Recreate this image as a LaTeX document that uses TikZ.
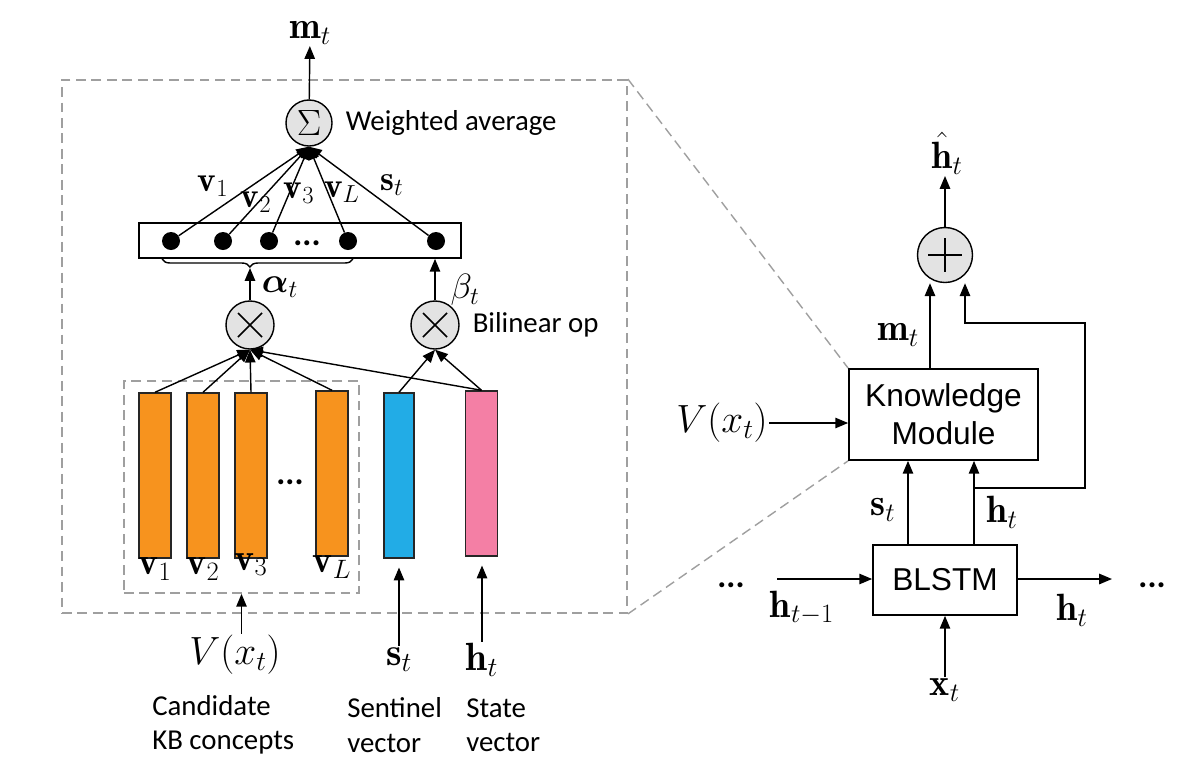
\RequirePackage{fix-cm}
\documentclass[tikz,border=0pt]{standalone}
\usepackage{amsmath}
\usepackage{fontspec}
\newfontfamily\calib{Carlito}
\newfontfamily\arial{Liberation Sans}
\usepackage{tikz}
\usetikzlibrary{positioning,arrows.meta,decorations.pathreplacing}
\definecolor{vorange}{HTML}{F7931E}
\definecolor{vblue}{HTML}{22ACE6}
\definecolor{vpink}{HTML}{F47FA5}
\newcommand\lsz{\fontsize{25}{29}\selectfont}
\newcommand\msz{\fontsize{27}{31}\selectfont}
\newcommand\bsz{\fontsize{28}{32}\selectfont}
\tikzset{
    arr/.style={-{Triangle[length=0.32cm,width=0.26cm]}, line width=1pt},
    opnode/.style={circle, draw, fill=gray!22, inner sep=0pt, line width=1pt},
    timesop/.style={opnode, minimum size=1.2cm,
      path picture={\draw[line width=1.1pt]
        ([shift={(-0.3cm,-0.3cm)}]path picture bounding box.center) -- ([shift={(0.3cm,0.3cm)}]path picture bounding box.center)
        ([shift={(-0.3cm,0.3cm)}]path picture bounding box.center) -- ([shift={(0.3cm,-0.3cm)}]path picture bounding box.center);}},
    plusop/.style={opnode, minimum size=1.375cm,
      path picture={\draw[line width=1.2pt]
        ([xshift=-0.42cm]path picture bounding box.center) -- ([xshift=0.42cm]path picture bounding box.center)
        ([yshift=-0.42cm]path picture bounding box.center) -- ([yshift=0.42cm]path picture bounding box.center);}},
    vecbar/.style={rectangle, draw=black!85, line width=1pt, minimum width=0.8cm, minimum height=4.125cm, inner sep=0pt},
    kdot/.style={circle, fill=black, minimum size=0.45cm, inner sep=0pt},
    modbox/.style={rectangle, draw, line width=1.2pt, inner sep=0pt, align=center, font=\arial\fontsize{22.5}{27}\selectfont},
    dbox/.style={rectangle, draw=gray!75, dash pattern=on 7pt off 4pt, line width=1.2pt},
    zoomline/.style={draw=gray!75, dash pattern=on 7pt off 4pt, line width=1pt},
    lab/.style={inner sep=1pt, font=\msz},
    txt/.style={inner sep=0pt, align=left, font=\calib\fontsize{20.5}{24.5}\selectfont},
    dotstxt/.style={inner sep=0pt, font=\calib\bfseries\fontsize{24}{28}\selectfont},
}
\begin{document}
\begin{tikzpicture}[x=0.025cm, y=-0.025cm]
\useasboundingbox (0,0) rectangle (1197,770);
% knowledge module, expanded
\node[dbox, minimum width=14.125cm, minimum height=13.325cm] (zoom) at (344.5,346.5) {};
\node[opnode, minimum size=1.15cm, font=\fontsize{26}{30}\selectfont] (sig) at (309,123) {$\Sigma$};
\node[txt, right=0.32cm of sig] (wavg) {Weighted average};
\node[lab] (mtop) at (310,33) {$\mathbf{m}_t$};
\draw[arr] (sig) -- (mtop);

\node[rectangle, draw, line width=1.2pt, minimum width=8.05cm, minimum height=0.875cm] (att) at (300,240.5) {};
\foreach \n/\x in {d1/171, d2/223, d3/269, dL/348, ds/436}
  \node[kdot] (\n) at (\x,241) {};
\node[dotstxt] (adots) at (307,243) {...};
\foreach \n in {d1,d2,d3,dL,ds}
  \draw[arr] (\n) -- (sig.south);
\node[lab, font=\lsz] at (213,186) {$\mathbf{v}_1$};
\node[lab, font=\lsz] at (256,202) {$\mathbf{v}_2$};
\node[lab, font=\lsz] at (299,193) {$\mathbf{v}_3$};
\node[lab, font=\lsz] at (342,192) {$\mathbf{v}_L$};
\node[lab, font=\lsz] at (392,185) {$\mathbf{s}_t$};

\draw[line width=1pt, decorate, decoration={brace, mirror, amplitude=0.2cm, aspect=0.46}] (162,259) -- (353,259);
\coordinate (btip) at (250,268);
\node[timesop] (tim1) at (250,325) {};
\node[timesop] (tim2) at (435,325) {};
\node[txt, right=0.32cm of tim2] (bilin) {Bilinear op};
\draw[arr] (tim1) -- (btip);
\draw[arr] (tim2) -- (tim2 |- att.south);
\node[lab, font=\lsz] at (280,287) {$\boldsymbol{\alpha}_t$};
\node[lab, font=\lsz] at (465,290) {$\beta_t$};

% vectors
\node[dbox, minimum width=5.875cm, minimum height=5.3cm] (cand) at (241.5,487) {};
\node[vecbar, fill=vorange] (b1) at (155,475.5) {};
\node[vecbar, fill=vorange] (b2) at (203,475.5) {};
\node[vecbar, fill=vorange] (b3) at (251,475.5) {};
\node[vecbar, fill=vorange] (bL) at (332,473.5) {};
\node[vecbar, fill=vblue, minimum width=0.75cm] (bs) at (399,475.5) {};
\node[vecbar, fill=vpink] (bh) at (481.5,473.5) {};
\node[dotstxt] (vdots) at (290,482) {...};
\node[lab, below=-2pt of b1] {$\mathbf{v}_1$};
\node[lab, below=-2pt of b2] {$\mathbf{v}_2$};
\node[lab, below=-5pt of b3] {$\mathbf{v}_3$};
\node[lab, below=-2pt of bL] {$\mathbf{v}_L$};
\foreach \b in {b1,b2,b3,bL,bh}
  \draw[arr] (\b.north) -- (tim1.south);
\foreach \b in {bs,bh}
  \draw[arr] (\b.north) -- (tim2.south);

\node[lab, font=\bsz] (vx) at (235,655) {$V(x_t)$};
\draw[arr] (vx.north -| cand.south) -- (cand.south);
\node[lab, font=\bsz] (sin) at (399,660) {$\mathbf{s}_t$};
\node[lab, font=\bsz] (hin) at (482,660) {$\mathbf{h}_t$};
\draw[arr, shorten >=0.22cm] (sin) -- (sin |- bs.south);
\draw[arr, shorten >=0.22cm] (hin) -- (hin |- bh.south);
\node[txt, anchor=west] (candt) at (152,725) {Candidate\\KB concepts};
\node[txt, anchor=west] (sentt) at (347,725) {Sentinel\\vector};
\node[txt, anchor=west] (statet) at (466,725) {State\\vector};

% recurrent step
\node[modbox, minimum width=4.725cm, minimum height=2.275cm] (km) at (943.5,414.5) {Knowledge\\Module};
\node[modbox, minimum width=3.6cm, minimum height=1.75cm] (lstm) at (945,580) {BLSTM};
\node[plusop] (plus) at (945,255) {};
\node[lab, anchor=south] (hhat) at (947,176) {$\hat{\mathbf{h}}_t$};
\draw[arr] (plus) -- (plus |- hhat.south);
\draw[arr] ([xshift=-0.375cm]plus.south |- km.north) -- ([xshift=-0.375cm]plus.south);
\node[lab] at (898,335) {$\mathbf{m}_t$};
\coordinate (hsplit) at (974,488);
\draw[arr] ([xshift=-0.925cm]lstm.north) -- ([xshift=-0.925cm]lstm.north |- km.south);
\draw[arr] (hsplit |- lstm.north) -- (hsplit |- km.south);
\draw[arr] (hsplit) -| (1085,323) -| ([xshift=0.5cm]plus.south);
\node[lab] at (883,510) {$\mathbf{s}_t$};
\node[lab] at (1002,512) {$\mathbf{h}_t$};
\node[lab, font=\bsz] (vx2) at (722,423) {$V(x_t)$};
\draw[arr] (vx2) -- (vx2 -| km.west);

\coordinate (hprev) at (777,579);
\coordinate (hnext) at (1112,579);
\node[dotstxt] (ldots) at (731,585) {...};
\node[dotstxt] (rdots) at (1152,585) {...};
\draw[arr] (hprev) -- (hprev -| lstm.west);
\draw[arr] (hnext -| lstm.east) -- (hnext);
\node[lab] at (802,608) {$\mathbf{h}_{t-1}$};
\node[lab] at (1072,610) {$\mathbf{h}_t$};
\node[lab] (xt) at (945,690) {$\mathbf{x}_t$};
\draw[arr] (xt) -- (lstm.south);

\draw[zoomline] (zoom.north east) -- (km.north west);
\draw[zoomline] (zoom.south east) -- (km.south west);
\end{tikzpicture}
\end{document}
